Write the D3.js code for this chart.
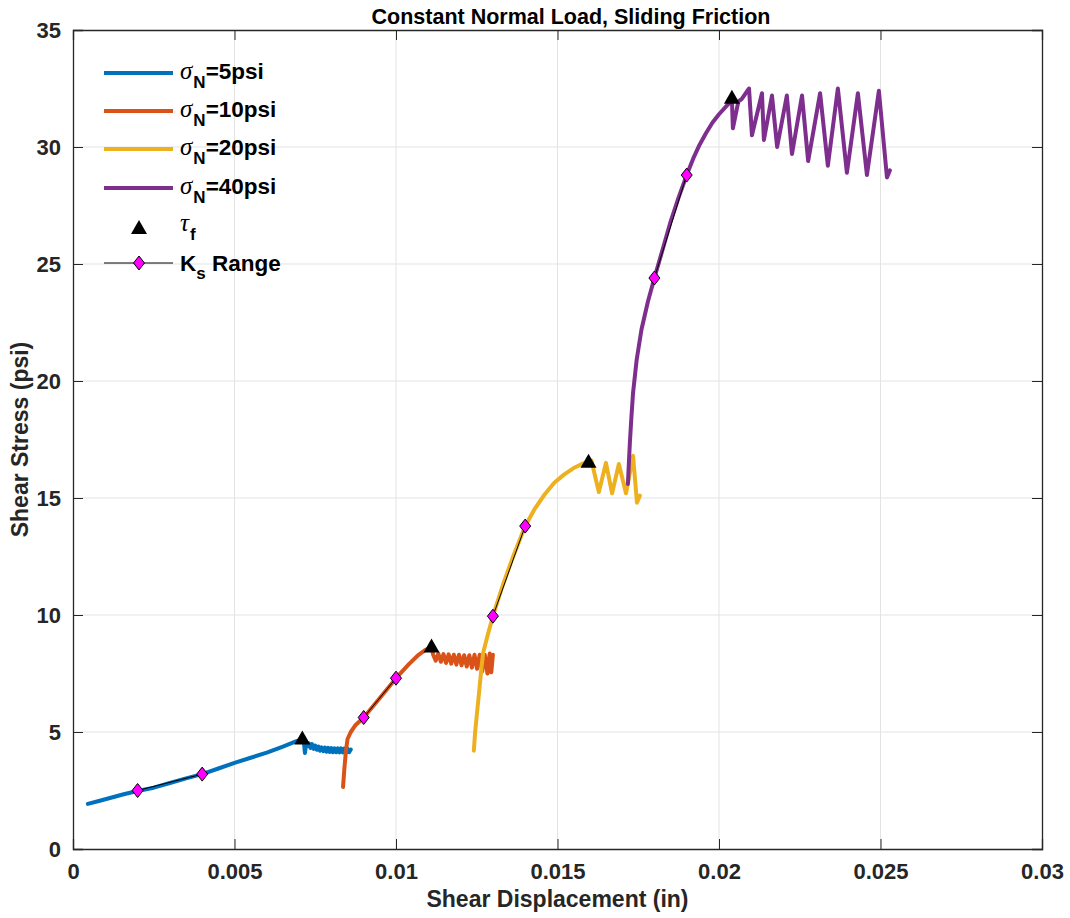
<!DOCTYPE html>
<html>
<head>
<meta charset="utf-8">
<script src="https://cdn.jsdelivr.net/npm/d3@7/dist/d3.min.js"></script>
<style>
  body { margin: 0; background: #fff; }
  svg { display: block; font-family: "Liberation Sans", Arial, sans-serif; }
</style>
</head>
<body>
<svg id="chart" width="1070" height="918"></svg>
<script>
// data: [displacement (in), shear stress (psi)]
const psi5 = [
  [0.00046, 1.93], [0.0008, 2.05], [0.0012, 2.2], [0.0016, 2.35], [0.002, 2.48],
  [0.0025, 2.62], [0.003, 2.82], [0.0035, 3.02], [0.004, 3.2], [0.0045, 3.44],
  [0.005, 3.68], [0.0055, 3.9], [0.006, 4.12], [0.0065, 4.38], [0.0069, 4.6],
  [0.0071, 4.7], [0.00715, 4.55], [0.00718, 4.1], [0.00722, 4.5], [0.00726, 4.4],
  [0.0073, 4.52], [0.00735, 4.32], [0.0074, 4.48], [0.00745, 4.28], [0.0075, 4.42],
  [0.00755, 4.24], [0.0076, 4.38], [0.00765, 4.2], [0.0077, 4.34], [0.00775, 4.18],
  [0.0078, 4.33], [0.00785, 4.16], [0.0079, 4.32], [0.00795, 4.15], [0.008, 4.31],
  [0.00805, 4.14], [0.0081, 4.3], [0.00815, 4.14], [0.0082, 4.3], [0.00825, 4.13],
  [0.0083, 4.3], [0.00835, 4.13], [0.0084, 4.29], [0.00845, 4.13], [0.0085, 4.29],
  [0.00855, 4.14], [0.0086, 4.25]
];
const psi10 = [
  [0.00836, 2.65], [0.0084, 3.4], [0.00845, 4.2], [0.0085, 4.7], [0.0086, 5.0],
  [0.00875, 5.3], [0.009, 5.62], [0.0095, 6.45], [0.01, 7.3], [0.0104, 7.9],
  [0.0107, 8.3], [0.0109, 8.5], [0.0111, 8.62], [0.01115, 8.3], [0.01123, 8.05],
  [0.01131, 8.35], [0.01139, 8.0], [0.01147, 8.33], [0.01155, 7.95], [0.01163, 8.32],
  [0.01171, 7.92], [0.01179, 8.3], [0.01187, 7.88], [0.01195, 8.3], [0.01203, 7.85],
  [0.01211, 8.28], [0.01219, 7.8], [0.01227, 8.28], [0.01235, 7.75], [0.01243, 8.3],
  [0.01251, 7.7], [0.01259, 8.3], [0.01267, 7.6], [0.01275, 8.3], [0.01283, 7.5],
  [0.0129, 8.35], [0.01295, 7.55], [0.013, 8.3]
];
const psi20 = [
  [0.01241, 4.2], [0.01245, 5.0], [0.0125, 5.7], [0.01258, 6.8], [0.01265, 7.8],
  [0.0127, 8.4], [0.01285, 9.2], [0.013, 9.95], [0.0133, 11.25], [0.0136, 12.4],
  [0.014, 13.8], [0.0143, 14.55], [0.0146, 15.15], [0.0149, 15.65], [0.0152, 16.0],
  [0.0155, 16.28], [0.0158, 16.48], [0.01596, 16.55], [0.01605, 16.6],
  [0.01628, 15.25], [0.0165, 16.5], [0.01669, 15.2], [0.0169, 16.45], [0.01712, 15.2],
  [0.01734, 16.8], [0.01746, 14.8], [0.01755, 15.1]
];
const psi40 = [
  [0.01718, 15.6], [0.01721, 16.5], [0.01724, 17.35], [0.01729, 18.5], [0.01734, 19.5],
  [0.01745, 20.9], [0.0176, 22.2], [0.0178, 23.4], [0.018, 24.4], [0.01825, 25.6],
  [0.0185, 26.8], [0.01875, 27.85], [0.019, 28.8], [0.0192, 29.5], [0.0194, 30.1],
  [0.0196, 30.6], [0.0198, 31.05], [0.02, 31.4], [0.0202, 31.7],
  [0.0204, 32.0], [0.02043, 30.8], [0.0206, 31.95], [0.0207, 32.05], [0.02093, 32.5],
  [0.02102, 30.5], [0.02133, 32.3], [0.02139, 30.3], [0.02164, 32.2], [0.0218, 30.0],
  [0.0221, 32.2], [0.02226, 29.7], [0.02257, 32.2], [0.02276, 29.4], [0.02313, 32.3],
  [0.02337, 29.2], [0.02368, 32.5], [0.02396, 28.9], [0.0243, 32.3], [0.02458, 28.8],
  [0.02495, 32.4], [0.0252, 28.7], [0.02529, 29.0]
];

// peak shear stress (tau_f) for each test
const tauF = [[0.0071, 4.72], [0.0111, 8.65], [0.01596, 16.55], [0.0204, 32.1]];

// Ks range, two points for each test
const ksRange = [
  [[0.002, 2.5], [0.004, 3.2]],
  [[0.009, 5.62], [0.01, 7.3]],
  [[0.013, 9.95], [0.014, 13.8]],
  [[0.018, 24.4], [0.019, 28.8]]
];

const xTicks = [0, 0.005, 0.01, 0.015, 0.02, 0.025, 0.03];
const xTickLabels = ["0", "0.005", "0.01", "0.015", "0.02", "0.025", "0.03"];
const yTicks = [0, 5, 10, 15, 20, 25, 30, 35];

const seriesNames = ["5psi", "10psi", "20psi", "40psi"];
const colors = ["#0072BD", "#D95319", "#EDB120", "#7E2F8E"];
const allSeries = [psi5, psi10, psi20, psi40];

// plot box
const boxL = 73, boxR = 1042, boxT = 30, boxB = 849;

const x = d3.scaleLinear().domain([0, 0.03]).range([boxL, boxR]);
const y = d3.scaleLinear().domain([0, 35]).range([boxB, boxT]);

const svg = d3.select("#chart");
const ink = "#262626";

// grid
svg.append("g").selectAll("line").data(xTicks.slice(1, -1)).join("line")
  .attr("x1", d => x(d)).attr("x2", d => x(d))
  .attr("y1", boxT).attr("y2", boxB)
  .attr("stroke", "#e3e3e3").attr("stroke-width", 1);
svg.append("g").selectAll("line").data(yTicks.slice(1, -1)).join("line")
  .attr("y1", d => y(d)).attr("y2", d => y(d))
  .attr("x1", boxL).attr("x2", boxR)
  .attr("stroke", "#e3e3e3").attr("stroke-width", 1);

// axes, ticks point inward like matlab
const xAxis = svg.append("g")
  .attr("transform", `translate(0,${boxB})`)
  .call(d3.axisBottom(x).tickValues(xTicks).tickSize(-10).tickPadding(14)
    .tickFormat((d, i) => xTickLabels[i]));
const xAxisTop = svg.append("g")
  .attr("transform", `translate(0,${boxT})`)
  .call(d3.axisTop(x).tickValues(xTicks).tickSize(-10).tickFormat(""));
const yAxis = svg.append("g")
  .attr("transform", `translate(${boxL},0)`)
  .call(d3.axisLeft(y).tickValues(yTicks).tickSize(-10).tickPadding(12));
const yAxisRight = svg.append("g")
  .attr("transform", `translate(${boxR},0)`)
  .call(d3.axisRight(y).tickValues(yTicks).tickSize(-10).tickFormat(""));

[xAxis, xAxisTop, yAxis, yAxisRight].forEach(g => {
  g.select(".domain").attr("stroke", ink).attr("stroke-width", 1.3);
  g.selectAll(".tick line").attr("stroke", ink).attr("stroke-width", 1);
  g.selectAll(".tick text")
    .attr("fill", ink)
    .attr("font-size", 22)
    .attr("font-weight", "bold")
    .attr("font-family", "'Liberation Sans', Arial, sans-serif");
});

// the curves
const line = d3.line().x(d => x(d[0])).y(d => y(d[1]));

svg.append("g").selectAll("path").data(allSeries).join("path")
  .attr("d", line)
  .attr("fill", "none")
  .attr("stroke", (d, i) => colors[i])
  .attr("stroke-width", 4)
  .attr("stroke-linejoin", "round")
  .attr("stroke-linecap", "round");

// Ks segments + diamonds
const diamond = "M0,-7L5.5,0L0,7L-5.5,0Z";
const triangle = "M0,-8L8,6L-8,6Z";

svg.append("g").selectAll("path").data(ksRange).join("path")
  .attr("d", line)
  .attr("fill", "none")
  .attr("stroke", "#000")
  .attr("stroke-width", 1);

svg.append("g").selectAll("path").data(ksRange.flat()).join("path")
  .attr("d", diamond)
  .attr("transform", d => `translate(${x(d[0])},${y(d[1])})`)
  .attr("fill", "#ff00ff")
  .attr("stroke", "#000")
  .attr("stroke-width", 1);

svg.append("g").selectAll("path").data(tauF).join("path")
  .attr("d", triangle)
  .attr("transform", d => `translate(${x(d[0])},${y(d[1])})`)
  .attr("fill", "#000");

// title and axis labels
svg.append("text")
  .attr("x", 571).attr("y", 24)
  .attr("text-anchor", "middle")
  .attr("font-size", 21.5).attr("font-weight", "bold").attr("fill", "#000")
  .text("Constant Normal Load, Sliding Friction");

svg.append("text")
  .attr("x", (boxL + boxR) / 2).attr("y", 907)
  .attr("text-anchor", "middle")
  .attr("font-size", 23).attr("font-weight", "bold").attr("fill", ink)
  .text("Shear Displacement (in)");

svg.append("text")
  .attr("transform", `translate(28,${(boxT + boxB) / 2}) rotate(-90)`)
  .attr("text-anchor", "middle")
  .attr("font-size", 23).attr("font-weight", "bold").attr("fill", ink)
  .text("Shear Stress (psi)");

// legend (no box)
const legend = svg.append("g");
const legendY = [73, 111, 149, 188];

seriesNames.forEach((name, i) => {
  const ly = legendY[i];
  legend.append("line")
    .attr("x1", 104).attr("x2", 173).attr("y1", ly).attr("y2", ly)
    .attr("stroke", colors[i]).attr("stroke-width", 4);
  const t = legend.append("text")
    .attr("x", 180).attr("y", ly + 6)
    .attr("font-size", 22.5).attr("font-weight", "bold").attr("fill", "#000");
  t.append("tspan")
    .attr("font-family", "'Liberation Serif', serif")
    .attr("font-style", "italic").attr("font-weight", "normal")
    .attr("font-size", 25)
    .text("σ");
  t.append("tspan").attr("font-size", 17).attr("dx", 1).attr("dy", 9).text("N");
  t.append("tspan").attr("dy", -9).text("=" + name);
});

// tau_f entry
legend.append("path")
  .attr("d", triangle)
  .attr("transform", "translate(139,228)")
  .attr("fill", "#000");
const tauText = legend.append("text")
  .attr("x", 180).attr("y", 231)
  .attr("font-size", 22.5).attr("font-weight", "bold").attr("fill", "#000");
tauText.append("tspan")
  .attr("font-family", "'Liberation Serif', serif")
  .attr("font-style", "italic").attr("font-weight", "normal")
  .attr("font-size", 25)
  .text("τ");
tauText.append("tspan").attr("font-size", 17).attr("dx", 1).attr("dy", 9).text("f");

// Ks entry
legend.append("line")
  .attr("x1", 104).attr("x2", 173).attr("y1", 263).attr("y2", 263)
  .attr("stroke", "#000").attr("stroke-width", 1);
legend.append("path")
  .attr("d", diamond)
  .attr("transform", "translate(139,263)")
  .attr("fill", "#ff00ff").attr("stroke", "#000");
const ksText = legend.append("text")
  .attr("x", 180).attr("y", 271)
  .attr("font-size", 22.5).attr("font-weight", "bold").attr("fill", "#000");
ksText.append("tspan").text("K");
ksText.append("tspan").attr("font-size", 17).attr("dy", 8).text("s");
ksText.append("tspan").attr("dy", -8).text(" Range");
</script>
</body>
</html>
